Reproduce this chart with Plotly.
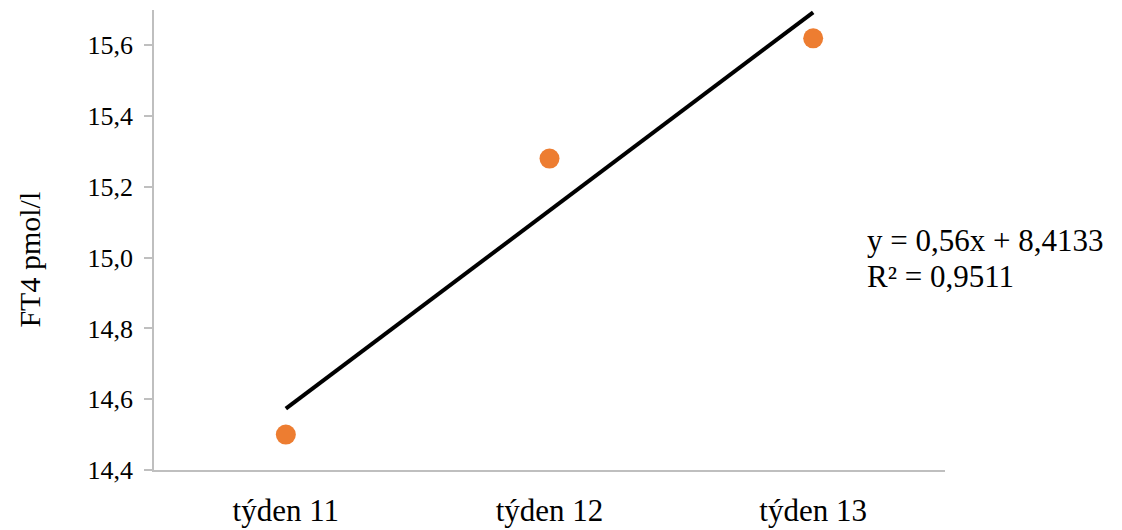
import numpy as np
import plotly.graph_objects as go

weeks = [11, 12, 13]
week_labels = ["týden 11", "týden 12", "týden 13"]
ft4_values = [14.5, 15.28, 15.62]
y_ticks = [14.4, 14.6, 14.8, 15.0, 15.2, 15.4, 15.6]
y_tick_labels = ["14,4", "14,6", "14,8", "15,0", "15,2", "15,4", "15,6"]

slope, intercept = np.polyfit(weeks, ft4_values, 1)
pred = slope * np.array(weeks) + intercept
ss_res = np.sum((np.array(ft4_values) - pred) ** 2)
ss_tot = np.sum((np.array(ft4_values) - np.mean(ft4_values)) ** 2)
r2 = 1 - ss_res / ss_tot

def cz(v, d):
    return f"{v:.{d}f}".replace(".", ",")

font_family = "Liberation Serif"

fig = go.Figure()
fig.add_trace(go.Scatter(
    x=weeks, y=ft4_values, mode="markers",
    marker=dict(color="#ED7D31", size=20, line=dict(width=0)),
    showlegend=False, cliponaxis=False,
))
trend_x = [weeks[0], weeks[-1]]
fig.add_trace(go.Scatter(
    x=trend_x, y=[slope * v + intercept for v in trend_x], mode="lines",
    line=dict(color="black", width=4),
    showlegend=False, cliponaxis=False,
))

eq_font = dict(family=font_family, size=31, color="black")
fig.add_annotation(
    xref="paper", yref="paper", x=0.899, y=0.498, xanchor="left", yanchor="middle",
    text=f"y = {cz(slope, 2)}x + {cz(intercept, 4)}",
    showarrow=False, align="left", font=eq_font,
)
fig.add_annotation(
    xref="paper", yref="paper", x=0.899, y=0.42, xanchor="left", yanchor="middle",
    text=f"R² = {cz(r2, 4)}",
    showarrow=False, align="left", font=eq_font,
)
fig.add_annotation(
    xref="paper", yref="paper", x=-0.157, y=0.457, xanchor="center", yanchor="middle",
    text="FT4 pmol/l", textangle=-90, showarrow=False,
    font=dict(family=font_family, size=30, color="black"),
)

fig.update_layout(
    width=1122, height=530,
    margin=dict(l=146, r=185, t=2, b=68),
    paper_bgcolor="white", plot_bgcolor="white",
    font=dict(family=font_family, color="black"),
    xaxis=dict(
        range=[10.5, 13.5], tickvals=weeks, ticktext=week_labels,
        showline=True, linecolor="#BFBFBF", linewidth=1.5,
        showgrid=False, zeroline=False,
        ticks="outside", ticklen=12, tickcolor="rgba(0,0,0,0)",
        tickfont=dict(family=font_family, size=31, color="black"),
    ),
    yaxis=dict(
        range=[14.4, 15.7], tickvals=y_ticks, ticktext=y_tick_labels,
        showline=True, linecolor="#BFBFBF", linewidth=1.5,
        showgrid=False, zeroline=False,
        ticks="outside", ticklen=8, tickcolor="#BFBFBF", tickwidth=1.5,
        ticklabelstandoff=6,
        tickfont=dict(family=font_family, size=26, color="black"),
    ),
)

fig.write_html("out.html")
